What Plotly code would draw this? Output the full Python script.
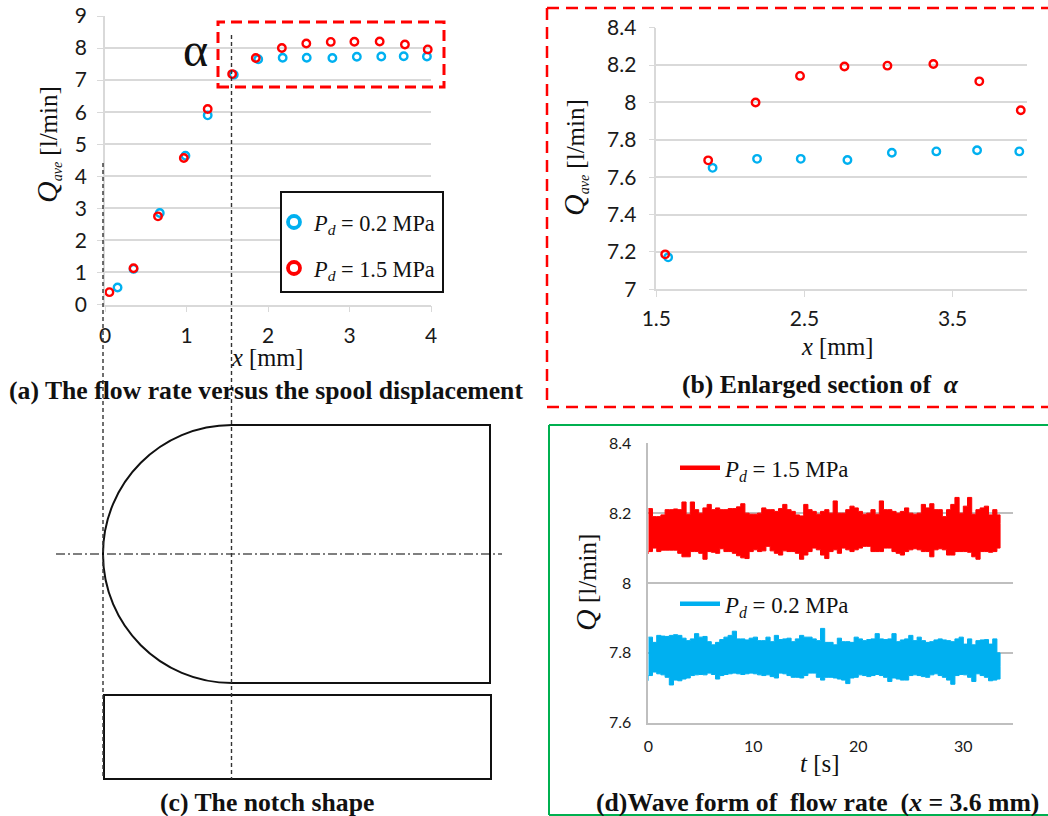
import plotly.graph_objects as go

# ---------- Data ----------
x_blue = [0.154, 0.35, 0.672, 0.987, 1.26, 1.58, 1.88, 2.18, 2.475, 2.79, 3.09, 3.39, 3.665, 3.95]
q_blue = [0.53, 1.11, 2.855, 4.64, 5.9, 7.171, 7.65, 7.698, 7.698, 7.692, 7.731, 7.738, 7.744, 7.738]
x_red = [0.054, 0.35, 0.65, 0.967, 1.26, 1.56, 1.85, 2.17, 2.47, 2.77, 3.06, 3.37, 3.68, 3.96]
q_red = [0.385, 1.13, 2.75, 4.57, 6.1, 7.187, 7.69, 8.0, 8.142, 8.192, 8.197, 8.206, 8.113, 7.958]

t_wave = [0, .4, .8, 1.2, 1.6, 2, 2.4, 2.8, 3.2, 3.6,
          4, 4.4, 4.8, 5.2, 5.6, 6, 6.4, 6.8, 7.2, 7.6,
          8, 8.4, 8.8, 9.2, 9.6, 10, 10.4, 10.8, 11.2, 11.6,
          12, 12.4, 12.8, 13.2, 13.6, 14, 14.4, 14.8, 15.2, 15.6,
          16, 16.4, 16.8, 17.2, 17.6, 18, 18.4, 18.8, 19.2, 19.6,
          20, 20.4, 20.8, 21.2, 21.6, 22, 22.4, 22.8, 23.2, 23.6,
          24, 24.4, 24.8, 25.2, 25.6, 26, 26.4, 26.8, 27.2, 27.6,
          28, 28.4, 28.8, 29.2, 29.6, 30, 30.4, 30.8, 31.2, 31.6,
          32, 32.4, 32.8, 33.2, 33.5]
red_hi = [8.213, 8.19, 8.19, 8.195, 8.21, 8.21, 8.212, 8.21, 8.232, 8.197,
          8.232, 8.21, 8.2, 8.215, 8.225, 8.21, 8.215, 8.21, 8.21, 8.213,
          8.213, 8.218, 8.227, 8.2, 8.197, 8.197, 8.2, 8.215, 8.21, 8.21,
          8.205, 8.213, 8.225, 8.21, 8.205, 8.195, 8.192, 8.225, 8.21, 8.205,
          8.197, 8.205, 8.21, 8.2, 8.235, 8.2, 8.2, 8.21, 8.22, 8.215,
          8.205, 8.197, 8.2, 8.21, 8.197, 8.235, 8.21, 8.21, 8.205, 8.2,
          8.205, 8.215, 8.2, 8.197, 8.2, 8.225, 8.215, 8.227, 8.21, 8.21,
          8.19, 8.21, 8.225, 8.245, 8.2, 8.22, 8.245, 8.197, 8.21, 8.215,
          8.22, 8.195, 8.21, 8.195, 8.17]
red_lo = [8.083, 8.09, 8.1, 8.09, 8.094, 8.094, 8.094, 8.094, 8.085, 8.075,
          8.075, 8.09, 8.09, 8.085, 8.068, 8.09, 8.088, 8.085, 8.098, 8.09,
          8.09, 8.085, 8.078, 8.072, 8.07, 8.09, 8.095, 8.09, 8.092, 8.105,
          8.092, 8.085, 8.08, 8.092, 8.09, 8.09, 8.085, 8.068, 8.08, 8.09,
          8.1, 8.095, 8.08, 8.07, 8.09, 8.095, 8.085, 8.1, 8.095, 8.09,
          8.095, 8.1, 8.105, 8.105, 8.09, 8.09, 8.09, 8.1, 8.1, 8.09,
          8.085, 8.08, 8.09, 8.095, 8.098, 8.095, 8.09, 8.09, 8.075, 8.095,
          8.098, 8.095, 8.08, 8.08, 8.09, 8.09, 8.09, 8.088, 8.075, 8.068,
          8.09, 8.09, 8.088, 8.09, 8.1]
blue_hi = [7.845, 7.83, 7.85, 7.848, 7.847, 7.85, 7.852, 7.85, 7.842, 7.835,
           7.84, 7.855, 7.845, 7.847, 7.832, 7.823, 7.83, 7.838, 7.845, 7.85,
           7.862, 7.84, 7.84, 7.837, 7.842, 7.845, 7.835, 7.835, 7.845, 7.832,
           7.85, 7.838, 7.84, 7.842, 7.832, 7.84, 7.85, 7.845, 7.845, 7.84,
           7.835, 7.87, 7.83, 7.83, 7.823, 7.842, 7.832, 7.832, 7.83, 7.845,
           7.84, 7.835, 7.838, 7.84, 7.855, 7.84, 7.838, 7.84, 7.855, 7.832,
           7.837, 7.84, 7.85, 7.835, 7.845, 7.835, 7.83, 7.832, 7.837, 7.84,
           7.837, 7.835, 7.832, 7.84, 7.845, 7.825, 7.84, 7.823, 7.835, 7.837,
           7.838, 7.825, 7.84, 7.8, 7.76]
blue_lo = [7.72, 7.735, 7.745, 7.74, 7.737, 7.73, 7.708, 7.722, 7.72, 7.725,
           7.728, 7.735, 7.737, 7.738, 7.737, 7.742, 7.738, 7.725, 7.735, 7.738,
           7.74, 7.742, 7.74, 7.738, 7.74, 7.742, 7.74, 7.737, 7.735, 7.737,
           7.732, 7.728, 7.742, 7.74, 7.735, 7.73, 7.73, 7.728, 7.735, 7.742,
           7.742, 7.73, 7.722, 7.73, 7.73, 7.728, 7.725, 7.722, 7.712, 7.728,
           7.73, 7.737, 7.735, 7.732, 7.735, 7.738, 7.735, 7.73, 7.718, 7.728,
           7.725, 7.722, 7.722, 7.735, 7.737, 7.735, 7.732, 7.73, 7.737, 7.74,
           7.735, 7.73, 7.722, 7.71, 7.735, 7.738, 7.737, 7.73, 7.718, 7.74,
           7.735, 7.73, 7.72, 7.722, 7.725]

label_02 = "<i>P<sub>d</sub></i> = 0.2 MPa"
label_15 = "<i>P<sub>d</sub></i> = 1.5 MPa"

# ---------- Style ----------
W, H = 1048, 816
RED, BLUE, GREEN = "#FF0000", "#00B0F0", "#00B050"
SERIF, SANS = "Liberation Serif", "Lato"
INK = "#1a1a1a"


def px(v):
    return v / W


def py(v):
    return 1 - v / H


fig = go.Figure()


def scatter_pts(xs, qs, color, xa, ya):
    fig.add_trace(go.Scatter(x=xs, y=qs, mode="markers", xaxis=xa, yaxis=ya, showlegend=False,
                             cliponaxis=False,
                             marker=dict(symbol="circle-open", size=7.5, color=color,
                                         line=dict(color=color, width=2.4))))


# (a) full range
scatter_pts(x_blue, q_blue, BLUE, "x", "y")
scatter_pts(x_red, q_red, RED, "x", "y")
# (b) enlarged section
scatter_pts(x_blue[5:], q_blue[5:], BLUE, "x2", "y2")
scatter_pts(x_red[5:], q_red[5:], RED, "x2", "y2")

# (d) wave forms as hi/lo outlines
for hi, lo, color in ((red_hi, red_lo, RED), (blue_hi, blue_lo, BLUE)):
    fig.add_trace(go.Scatter(x=t_wave + t_wave[::-1], y=hi + lo[::-1], mode="lines", fill="toself",
                             fillcolor=color, xaxis="x3", yaxis="y3", showlegend=False,
                             line=dict(color=color, width=1, shape="hv")))

# legend only entries
for color, name, leg in ((BLUE, label_02, "legend"), (RED, label_15, "legend2")):
    fig.add_trace(go.Scatter(x=[None], y=[None], mode="markers", xaxis="x", yaxis="y", name=name, legend=leg,
                             marker=dict(symbol="circle-open", size=12, color=color,
                                         line=dict(color=color, width=3.8))))
for color, name, leg in ((RED, label_15, "legend3"), (BLUE, label_02, "legend4")):
    fig.add_trace(go.Scatter(x=[None], y=[None], mode="lines", xaxis="x3", yaxis="y3", name=name, legend=leg,
                             line=dict(color=color, width=4.5)))

GRID_A = "#D9D9D9"
GRID_D = "#BFBFBF"


def axes(x0, x1, y0, y1, rng_x, rng_y, tx, ty, size, grid, xstand, ystand, xticks="outside", yticks="outside"):
    xa = dict(domain=[px(x0), px(x1)], range=rng_x, tickvals=tx, ticks=xticks, ticklen=6, tickcolor=grid,
              automargin=False, showgrid=False, zeroline=False, showline=True, linecolor=grid, linewidth=1.5,
              tickfont=dict(family=SANS, size=size, color=INK), ticklabelstandoff=xstand)
    ya = dict(domain=[py(y1), py(y0)], range=rng_y, tickvals=ty, ticks=yticks, ticklen=6, tickcolor=grid,
              automargin=False, showgrid=True, gridcolor=grid, gridwidth=1.5, zeroline=False, showline=True,
              linecolor=grid, linewidth=1.5, tickfont=dict(family=SANS, size=size, color=INK),
              ticklabelstandoff=ystand)
    return xa, ya


xa1, ya1 = axes(105, 431, 16, 304.5, [0, 4], [0, 9], [0, 1, 2, 3, 4], list(range(10)), 21, GRID_A, 6, 6)
xa2, ya2 = axes(656.3, 1026.7, 27.7, 289.3, [1.5, 4], [7, 8.4], [1.5, 2.5, 3.5],
                [7, 7.2, 7.4, 7.6, 7.8, 8, 8.2, 8.4], 21, GRID_A, 4, 8)
xa3, ya3 = axes(648.3, 1013.3, 443.3, 722.7, [0, 34.76], [7.6, 8.4], [0, 10, 20, 30],
                [7.6, 7.8, 8, 8.2, 8.4], 16, GRID_D, 8, 12, xticks="", yticks="")
ya2["ticktext"] = ["7", "7.2", "7.4", "7.6", "7.8", "8", "8.2", "8.4"]
ya3["ticktext"] = ["7.6", "7.8", "8", "8.2", "8.4"]
xa2["ticktext"] = ["1.5", "2.5", "3.5"]

# ---------- Decoration shapes ----------
shapes = []


def rect(x0, y0, x1, y1, color, width, dash="solid", fill=None, layer="above"):
    shapes.append(dict(type="rect", xref="paper", yref="paper", x0=px(x0), x1=px(x1), y0=py(y1), y1=py(y0),
                       line=dict(color=color, width=width, dash=dash), fillcolor=fill, layer=layer))


def line(x0, y0, x1, y1, color, width, dash="solid"):
    shapes.append(dict(type="line", xref="paper", yref="paper", x0=px(x0), x1=px(x1), y0=py(y0), y1=py(y1),
                       line=dict(color=color, width=width, dash=dash)))


rect(218, 22, 444, 87, RED, 3, "11px,6px", layer="below")
rect(281, 192, 443, 292, "#111111", 2, fill="white")
# (b) dashed frame, open at the page edge
line(547, 8, 1048, 8, RED, 2.5, "12px,7px")
line(547, 8, 547, 407, RED, 2.5, "12px,7px")
line(547, 407, 1048, 407, RED, 2.5, "12px,7px")
# (d) green frame
line(549, 425, 1048, 425, GREEN, 2)
line(549, 425, 549, 815, GREEN, 2)
line(549, 815, 1048, 815, GREEN, 2)

# (c) notch outline: half circle plus straight sides
cx, cy, r = 232, 554, 129
k = 0.5523 * r
path = (f"M {px(cx)} {py(cy - r)} "
        f"C {px(cx - k)} {py(cy - r)} {px(cx - r)} {py(cy - k)} {px(cx - r)} {py(cy)} "
        f"C {px(cx - r)} {py(cy + k)} {px(cx - k)} {py(cy + r)} {px(cx)} {py(cy + r)} "
        f"L {px(490)} {py(cy + r)} L {px(490)} {py(cy - r)} Z")
shapes.append(dict(type="path", xref="paper", yref="paper", path=path, line=dict(color="#111111", width=2)))
rect(104, 695, 491, 779, "#111111", 2)
line(56, 554, 502, 554, "#000000", 1.2, "9px,3px,2px,3px")
line(103, 163, 103, 779, "#333333", 1.4, "4px,3px")
line(231.5, 35, 231.5, 779, "#333333", 1.4, "4px,3px")

# ---------- Text ----------
ann = []


def text(x, y, s, size, bold=False, rot=0, family=SERIF, color="#111111"):
    ann.append(dict(xref="paper", yref="paper", x=px(x), y=py(y), text=f"<b>{s}</b>" if bold else s, showarrow=False,
                    textangle=rot, xanchor="center", yanchor="middle",
                    font=dict(family=family, size=size, color=color)))


BIG_Q = "<span style='font-size:30px'>Q</span>"
Q_AVE = f"<i>{BIG_Q}<sub><span style='font-size:14px'>ave</span></sub></i> [l/min]"
text(47, 145, Q_AVE, 25, rot=-90)
text(267, 357, "<i>x</i> [mm]", 24.5)
text(575, 158, Q_AVE, 25, rot=-90)
text(837, 346, "<i>x</i> [mm]", 24.5)
text(585, 583, f"<i>{BIG_Q}</i> [l/min]", 25, rot=-90)
text(820, 763, "<i>t</i> [s]", 25)
text(195, 49, "α", 48)
text(266.5, 390, "(a) The flow rate versus the spool displacement", 25.7, bold=True)
text(820, 384, "(b) Enlarged section of \u00a0<i>α</i>", 25.7, bold=True)
text(267, 802, "(c) The notch shape", 25.7, bold=True)
text(817.5, 802, "(d)Wave form of \u00a0flow rate \u00a0(<i>x</i> = 3.6 mm)", 25.7, bold=True)


def legend_box(x, y, size, item):
    return dict(x=px(x), y=py(y), xanchor="left", yanchor="middle", bgcolor="rgba(0,0,0,0)", borderwidth=0,
                font=dict(family=SERIF, size=size, color="#111111"), itemwidth=item, itemclick=False,
                itemdoubleclick=False)


fig.update_layout(
    width=W, height=H, margin=dict(l=0, r=0, t=0, b=0, pad=0), autosize=False,
    paper_bgcolor="white", plot_bgcolor="rgba(0,0,0,0)", showlegend=True,
    xaxis=dict(xa1, anchor="y"), yaxis=dict(ya1, anchor="x"),
    xaxis2=dict(xa2, anchor="y2"), yaxis2=dict(ya2, anchor="x2"),
    xaxis3=dict(xa3, anchor="y3"), yaxis3=dict(ya3, anchor="x3"),
    shapes=shapes, annotations=ann,
    legend=legend_box(274, 222, 22.3, 30),
    legend2=legend_box(274, 268, 22.3, 30),
    legend3=legend_box(675, 468, 22.8, 40),
    legend4=legend_box(675, 604, 22.8, 40),
)

fig.write_html("out.html", config={"displayModeBar": False},
               post_script="document.body.style.margin='0';document.body.style.overflow='hidden';")
